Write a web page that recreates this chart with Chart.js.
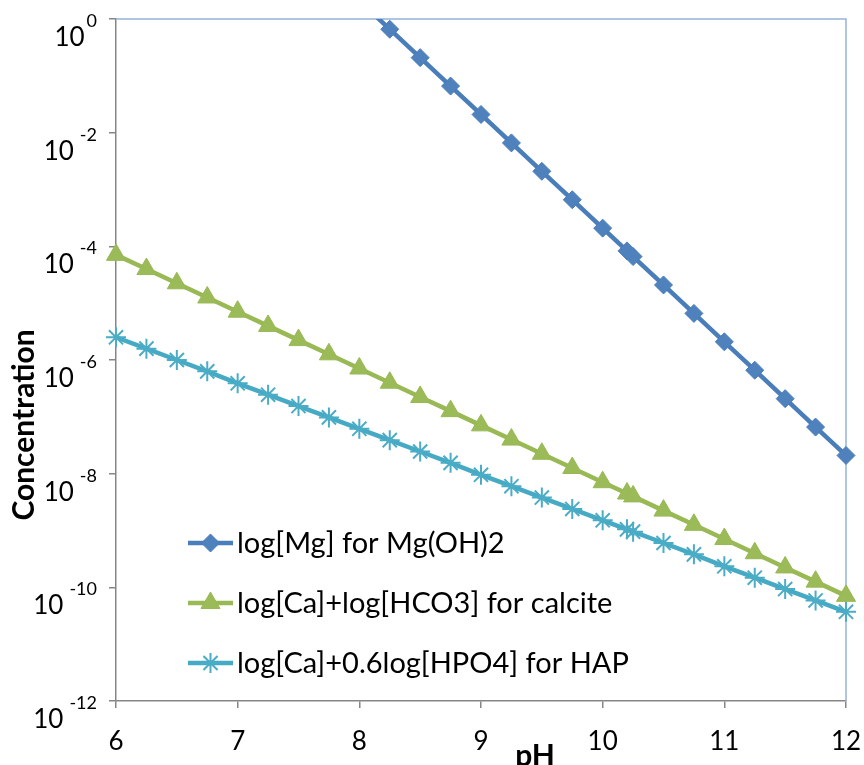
<!DOCTYPE html>
<html>
<head>
<meta charset="utf-8">
<script src="https://cdn.jsdelivr.net/npm/chart.js@4.4.1/dist/chart.umd.min.js"></script>
<style>
  body { margin: 0; background: #fff; }
</style>
</head>
<body>
<canvas id="chart" width="864" height="765"></canvas>
<script>
// pH values where the curves were computed (extra point near 10.2)
const phValues = [6, 6.25, 6.5, 6.75, 7, 7.25, 7.5, 7.75, 8, 8.25, 8.5, 8.75, 9, 9.25, 9.5, 9.75,
                  10, 10.2, 10.25, 10.5, 10.75, 11, 11.25, 11.5, 11.75, 12];

// log10 of concentration
const mgLog = [null, null, null, null, null, null, null, null, 0.32, -0.18, -0.68, -1.18, -1.68, -2.18, -2.68, -3.18,
               -3.68, -4.08, -4.18, -4.68, -5.18, -5.68, -6.18, -6.68, -7.18, -7.68];
const calciteLog = [-4.15, -4.40, -4.65, -4.90, -5.15, -5.40, -5.65, -5.90, -6.15, -6.40, -6.65, -6.90, -7.15, -7.40, -7.65, -7.90,
                    -8.15, -8.35, -8.40, -8.65, -8.90, -9.15, -9.40, -9.65, -9.90, -10.15];
const hapLog = [-5.60, -5.80, -6.00, -6.20, -6.41, -6.61, -6.81, -7.01, -7.21, -7.41, -7.61, -7.81, -8.02, -8.22, -8.42, -8.62,
                -8.82, -8.98, -9.02, -9.22, -9.42, -9.63, -9.83, -10.03, -10.23, -10.43];

const seriesNames = ["log[Mg] for Mg(OH)2", "log[Ca]+log[HCO3] for calcite", "log[Ca]+0.6log[HPO4] for HAP"];
const xTicks = [6, 7, 8, 9, 10, 11, 12];
const yTicks = [0, -2, -4, -6, -8, -10, -12];

const FONT = "Lato, 'Noto Sans', sans-serif";

function toPoints(values) {
    return phValues.map((x, i) => ({ x: x, y: values[i] }));
}

let chartDecorations = {
    id: "chartDecorations",
    beforeDatasetsDraw(chart) {
        let ctx = chart.ctx;
        let area = chart.chartArea;
        ctx.save();
        ctx.strokeStyle = "#95b3d7";
        ctx.lineWidth = 1.5;
        ctx.beginPath();
        ctx.moveTo(area.left, area.top);
        ctx.lineTo(area.right, area.top);
        ctx.lineTo(area.right, area.bottom);
        ctx.stroke();
        ctx.restore();
    },
    afterDraw(chart) {
        let ctx = chart.ctx;
        let xs = chart.scales.x;
        let ys = chart.scales.y;
        ctx.save();
        ctx.fillStyle = "#000";

        // x tick labels
        ctx.font = "26px " + FONT;
        ctx.textAlign = "center";
        ctx.textBaseline = "alphabetic";
        xTicks.forEach(v => {
            ctx.fillText(String(v), xs.getPixelForValue(v), 750);
        });

        // y tick labels, 10 with superscript exponent
        yTicks.forEach(v => {
            let py = ys.getPixelForValue(v);
            let expBase = Math.max(py + 8, 26);
            ctx.textAlign = "right";
            ctx.font = "18px " + FONT;
            let exp = v === 0 ? "0" : "-" + Math.abs(v);
            ctx.fillText(exp, 97, expBase);
            let w = ctx.measureText(exp).width;
            ctx.font = "26px " + FONT;
            ctx.fillText("10", 97 - w - (v === 0 ? 2 : 6), expBase + 19);
        });

        // axis titles
        ctx.font = "bold 30px " + FONT;
        ctx.textAlign = "center";
        ctx.fillText("pH", 535, 766);
        ctx.save();
        ctx.translate(34, 425);
        ctx.rotate(-Math.PI / 2);
        ctx.fillText("Concentration", 0, 0);
        ctx.restore();

        // legend inside the plot
        let rows = [543, 603, 663];
        chart.data.datasets.forEach((ds, i) => {
            let y = rows[i];
            ctx.strokeStyle = ds.borderColor;
            ctx.lineWidth = 4.5;
            ctx.lineCap = "butt";
            ctx.beginPath();
            ctx.moveTo(188, y);
            ctx.lineTo(233, y);
            ctx.stroke();
            ctx.fillStyle = ds.pointBackgroundColor;
            ctx.strokeStyle = ds.pointBorderColor;
            ctx.lineWidth = ds.pointBorderWidth;
            Chart.helpers.drawPoint(ctx, {
                pointStyle: ds.pointStyle,
                radius: ds.pointRadius,
                rotation: 0,
                borderWidth: ds.pointBorderWidth
            }, 210.5, y);
            ctx.fillStyle = "#000";
            ctx.font = "29px " + FONT;
            ctx.textAlign = "left";
            ctx.textBaseline = "middle";
            ctx.fillText(seriesNames[i], 237, y + 1);
            ctx.textBaseline = "alphabetic";
        });
        ctx.restore();
    }
};

function makeChart() {
    let canvas = document.getElementById("chart");
    new Chart(canvas.getContext("2d"), {
        type: "line",
        data: {
            datasets: [{
                label: seriesNames[0],
                data: toPoints(mgLog),
                borderColor: "#4a7ebb",
                borderWidth: 4.5,
                pointStyle: "rectRot",
                pointRadius: 9,
                pointBackgroundColor: "#4f81bd",
                pointBorderColor: "#4a7ebb",
                pointBorderWidth: 1,
                clip: { left: false, right: false, top: 0, bottom: false }
            }, {
                label: seriesNames[1],
                data: toPoints(calciteLog),
                borderColor: "#98b954",
                borderWidth: 4.5,
                pointStyle: "triangle",
                pointRadius: 11,
                pointBackgroundColor: "#9bbb59",
                pointBorderColor: "#98b954",
                pointBorderWidth: 1,
                clip: false
            }, {
                label: seriesNames[2],
                data: toPoints(hapLog),
                borderColor: "#46aac5",
                borderWidth: 4.5,
                pointStyle: "star",
                pointRadius: 10,
                pointBackgroundColor: "#4bacc6",
                pointBorderColor: "#4bacc6",
                pointBorderWidth: 2,
                clip: false
            }]
        },
        options: {
            responsive: false,
            animation: false,
            spanGaps: false,
            layout: { padding: { top: 19, right: 18, left: 0, bottom: 0 } },
            plugins: {
                legend: { display: false },
                tooltip: { enabled: false }
            },
            elements: { line: { tension: 0 } },
            scales: {
                x: {
                    type: "linear",
                    min: 6,
                    max: 12,
                    ticks: { stepSize: 1, display: false },
                    grid: { drawOnChartArea: false, drawTicks: true, tickLength: 7, color: "#868686", lineWidth: 1.5 },
                    border: { display: true, color: "#868686", width: 1.5 },
                    afterFit: s => { s.height = 64; }
                },
                y: {
                    type: "linear",
                    min: -12,
                    max: 0,
                    ticks: { stepSize: 2, display: false },
                    grid: { drawOnChartArea: false, drawTicks: true, tickLength: 7, color: "#868686", lineWidth: 1.5 },
                    border: { display: true, color: "#868686", width: 1.5 },
                    afterFit: s => { s.width = 116; }
                }
            }
        },
        plugins: [chartDecorations]
    });
}
makeChart();
</script>
</body>
</html>
